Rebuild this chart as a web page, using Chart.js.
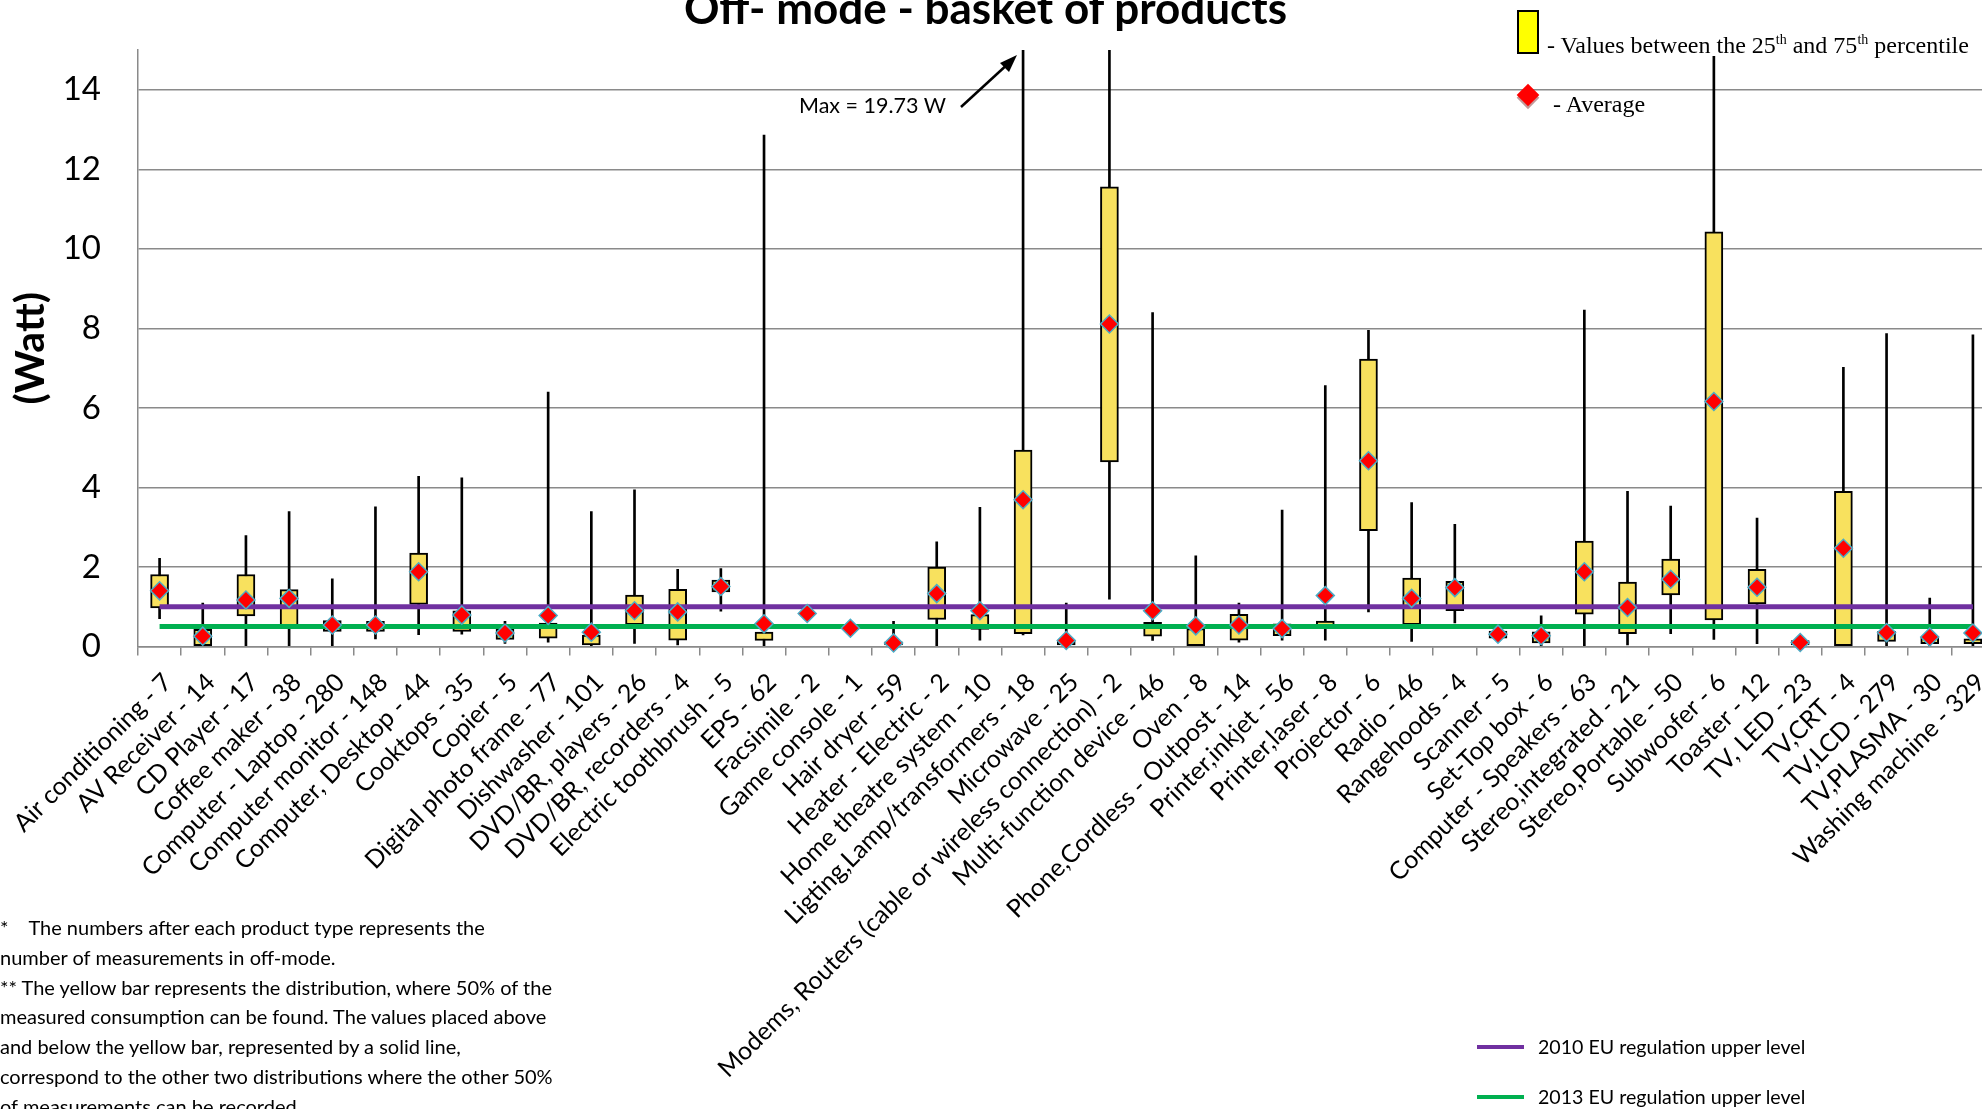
<!DOCTYPE html>
<html>
<head>
<meta charset="utf-8">
<title>Off- mode - basket of products</title>
<script src="https://cdn.jsdelivr.net/npm/chart.js@4.4.1/dist/chart.umd.min.js"></script>
<style>
  html, body { margin: 0; padding: 0; background: #fff; overflow: hidden; }
  #wrap { position: relative; width: 2005px; height: 1109px; }
  #chart { position: absolute; left: 0; top: 0; }
  .txt { position: absolute; white-space: nowrap; color: #000; }
  .cal { font-family: Lato, "Open Sans", sans-serif; }
  .serif { font-family: "Liberation Serif", "DejaVu Serif", serif; }
</style>
</head>
<body>
<div id="wrap">
  <canvas id="chart" width="2005" height="1109"></canvas>

  <div class="txt cal" style="left:684px; top:-19px; font-size:44px; font-weight:bold; line-height:52px;">Off- mode - basket of products</div>

  <div class="txt cal" style="left:799px; top:92px; font-size:21.5px; line-height:26px;">Max = 19.73 W</div>
  <svg style="position:absolute; left:0; top:0;" width="2005" height="1109">
    <line x1="961" y1="107" x2="1010" y2="62" stroke="#000" stroke-width="2.5"/>
    <polygon points="1017,55 1000,63 1009,72" fill="#000"/>
  </svg>

  <!-- leyenda superior -->
  <div style="position:absolute; left:1517px; top:10px; width:18px; height:40px; background:#ffff00; border:2px solid #000;"></div>
  <div class="txt serif" style="left:1547px; top:25px; font-size:24px; line-height:30px;">- Values between the 25<sup style="font-size:14px">th</sup> and 75<sup style="font-size:14px">th</sup> percentile</div>
  <div style="position:absolute; left:1520px; top:87px; width:16px; height:16px; background:#ff0000; transform:rotate(45deg); box-shadow:2px 2px 0 rgba(170,110,110,0.7);"></div>
  <div class="txt serif" style="left:1553px; top:89px; font-size:24px; line-height:30px;">- Average</div>

  <!-- notas -->
  <div class="txt cal" style="left:0px; top:913px; font-size:20px; line-height:29.8px; white-space:pre;">*    The numbers after each product type represents the
number of measurements in off-mode.
** The yellow bar represents the distribution, where 50% of the
measured consumption can be found. The values placed above
and below the yellow bar, represented by a solid line,
correspond to the other two distributions where the other 50%
of measurements can be recorded.</div>

  <!-- leyenda de regulaciones -->
  <div style="position:absolute; left:1477px; top:1045px; width:47px; height:4px; background:#7030a0;"></div>
  <div class="txt cal" style="left:1538px; top:1034px; font-size:19.6px; line-height:26px;">2010 EU regulation upper level</div>
  <div style="position:absolute; left:1477px; top:1095px; width:47px; height:4px; background:#00b050;"></div>
  <div class="txt cal" style="left:1538px; top:1084px; font-size:19.6px; line-height:26px;">2013 EU regulation upper level</div>
</div>

<script>
// Datos
const categories = [
  'Air conditioning - 7', 'AV Receiver - 14', 'CD Player - 17', 'Coffee maker - 38',
  'Computer - Laptop - 280', 'Computer monitor - 148', 'Computer, Desktop - 44', 'Cooktops - 35',
  'Copier - 5', 'Digital photo frame - 77', 'Dishwasher - 101', 'DVD/BR, players - 26',
  'DVD/BR, recorders - 4', 'Electric toothbrush - 5', 'EPS - 62', 'Facsimile - 2',
  'Game console - 1', 'Hair dryer - 59', 'Heater - Electric - 2', 'Home theatre system - 10',
  'Ligting,Lamp/transformers - 18', 'Microwave - 25', 'Modems, Routers (cable or wireless connection) - 2',
  'Multi-function device - 46', 'Oven - 8', 'Phone,Cordless - Outpost - 14', 'Printer,inkjet - 56',
  'Printer,laser - 8', 'Projector - 6', 'Radio - 46', 'Rangehoods - 4', 'Scanner - 5',
  'Set-Top box - 6', 'Computer - Speakers - 63', 'Stereo,integrated - 21', 'Stereo,Portable - 50',
  'Subwoofer - 6', 'Toaster - 12', 'TV, LED - 23', 'TV,CRT - 4', 'TV,LCD - 279',
  'TV,PLASMA - 30', 'Washing machine - 329'
];

// percentil 25 y 75 (caja amarilla)
const q1 = [0.97, 0.00, 0.77, 0.48, 0.38, 0.38, 1.06, 0.38, 0.18, 0.21, 0.04, 0.55, 0.16, 1.37, 0.15, null,
  null, 0.04, 0.68, 0.43, 0.32, 0.04, 4.64, 0.26, 0.00, 0.16, 0.27, 0.47, 2.91, 0.55, 0.90, 0.21,
  0.09, 0.81, 0.32, 1.30, 0.67, 1.07, 0.04, 0.00, 0.13, 0.07, 0.07];
const q3 = [1.81, 0.43, 1.81, 1.43, 0.65, 0.63, 2.35, 0.90, 0.45, 0.59, 0.29, 1.29, 1.44, 1.67, 0.36, null,
  null, 0.12, 2.00, 0.80, 4.94, 0.16, 11.56, 0.61, 0.45, 0.81, 0.57, 0.64, 7.23, 1.72, 1.64, 0.39,
  0.37, 2.65, 1.62, 2.20, 10.43, 1.94, 0.15, 3.90, 0.38, 0.23, 0.19];

// mínimo y máximo (línea negra)
const minVals = [0.70, 0.00, 0.00, 0.00, 0.00, 0.19, 0.30, 0.31, 0.08, 0.11, 0.00, 0.08, 0.04, 0.89, 0.02, null,
  null, 0.00, 0.00, 0.16, 0.29, 0.02, 1.19, 0.15, 0.00, 0.11, 0.16, 0.16, 0.87, 0.13, 0.59, 0.21,
  0.00, 0.00, 0.04, 0.32, 0.18, 0.07, 0.04, 0.00, 0.00, 0.02, 0.00];
const maxVals = [2.22, 1.09, 2.79, 3.39, 1.70, 3.51, 4.28, 4.24, 0.63, 6.40, 3.39, 3.94, 1.94, 1.96, 12.86, null,
  null, 0.63, 2.63, 3.50, 19.73, 1.09, 16.50, 8.40, 2.28, 1.09, 3.43, 6.56, 7.95, 3.62, 3.07, 0.39,
  0.77, 8.46, 3.90, 3.53, 14.84, 3.23, 0.15, 7.02, 7.87, 1.22, 7.84];

// promedio (rombo rojo)
const averages = [1.40, 0.26, 1.17, 1.21, 0.54, 0.54, 1.88, 0.79, 0.34, 0.78, 0.36, 0.90, 0.87, 1.51, 0.57, 0.83,
  0.46, 0.09, 1.33, 0.90, 3.69, 0.15, 8.11, 0.90, 0.52, 0.54, 0.45, 1.28, 4.67, 1.21, 1.48, 0.31,
  0.27, 1.88, 0.98, 1.69, 6.16, 1.49, 0.10, 2.47, 0.35, 0.24, 0.34];

// niveles de la regulación UE (W)
const reg2010 = 1.0;
const reg2013 = 0.5;

// eje y
const yMin = 0;
const yMax = 15;
const yStep = 2;

const labelFont = 'Lato, "Open Sans", sans-serif';

const ctx = document.getElementById('chart').getContext('2d');
new Chart(ctx, {
  data: {
    labels: categories,
    datasets: [
      {
        type: 'bar',
        label: 'Whisker',
        data: categories.map((c, i) => maxVals[i] == null ? null : [minVals[i], maxVals[i]]),
        backgroundColor: '#000000',
        barThickness: 2,
        grouped: false,
        clip: 0,
        order: 4
      },
      {
        type: 'bar',
        label: 'Box',
        data: categories.map((c, i) => q3[i] == null ? null : [q1[i], q3[i]]),
        backgroundColor: '#f8e15e',
        borderColor: '#000000',
        borderWidth: 2,
        borderSkipped: false,
        barThickness: 18,
        grouped: false,
        clip: 0,
        order: 3
      },
      {
        type: 'line',
        label: '2010 EU regulation upper level',
        data: categories.map(() => reg2010),
        borderColor: '#7030a0',
        borderWidth: 5,
        pointRadius: 0,
        order: 2
      },
      {
        type: 'line',
        label: '2013 EU regulation upper level',
        data: categories.map(() => reg2013),
        borderColor: '#00b050',
        borderWidth: 5,
        pointRadius: 0,
        order: 1
      },
      {
        type: 'line',
        label: 'Average',
        data: averages,
        showLine: false,
        pointStyle: 'rectRot',
        pointRadius: 9,
        pointBackgroundColor: '#ff0000',
        pointBorderColor: '#4bacc6',
        pointBorderWidth: 1.5,
        clip: false,
        order: 0
      }
    ]
  },
  options: {
    responsive: false,
    animation: false,
    layout: { padding: { top: 50, right: 0, left: 0, bottom: 0 } },
    plugins: {
      legend: { display: false },
      tooltip: { enabled: false }
    },
    scales: {
      x: {
        type: 'category',
        offset: true,
        afterFit: function(scale) {
          scale.height = 462.5;
          // las etiquetas giradas no deben empujar el área del gráfico
          scale.paddingLeft = 0;
          scale.paddingRight = 0;
        },
        grid: {
          display: true,
          offset: true,
          drawOnChartArea: false,
          drawTicks: true,
          tickLength: 9,
          color: '#8a8a8a',
          lineWidth: 1.5
        },
        border: { display: true, color: '#8a8a8a', width: 1.5 },
        ticks: {
          autoSkip: false,
          maxRotation: 45,
          minRotation: 45,
          padding: 12,
          labelOffset: 8,
          color: '#000000',
          font: { family: labelFont, size: 25 }
        }
      },
      y: {
        min: yMin,
        max: yMax,
        afterFit: function(scale) { scale.width = 138; },
        grid: {
          color: '#8a8a8a',
          lineWidth: 1.5,
          drawTicks: false
        },
        border: { display: true, color: '#8a8a8a', width: 1.5 },
        ticks: {
          stepSize: yStep,
          includeBounds: false,
          padding: 37,
          color: '#000000',
          // lineHeight bajo para que el padding del eje no empuje el área del gráfico
          font: { family: labelFont, size: 33, lineHeight: 0.4 }
        },
        title: {
          display: true,
          text: '(Watt)',
          color: '#000000',
          font: { family: labelFont, size: 41, weight: 'bold' },
          padding: { top: 6, bottom: 0 }
        }
      }
    }
  }
});
</script>
</body>
</html>
